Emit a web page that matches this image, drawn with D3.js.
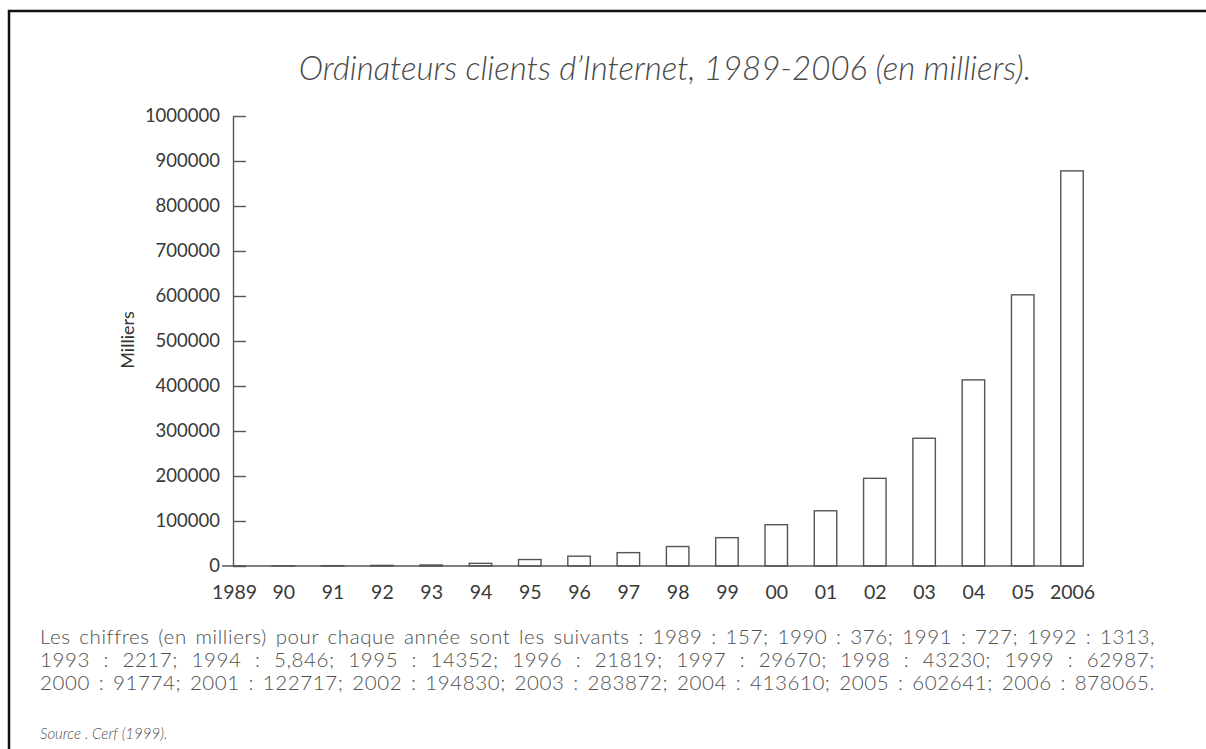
<!DOCTYPE html>
<html>
<head>
<meta charset="utf-8">
<script src="https://cdn.jsdelivr.net/npm/d3@7"></script>
<style>
  body { margin: 0; background: #fff; }
  svg { display: block; font-family: Lato, "Open Sans", sans-serif; }
</style>
</head>
<body>
<script>
// Data
let years = [1989, 1990, 1991, 1992, 1993, 1994, 1995, 1996, 1997, 1998, 1999,
             2000, 2001, 2002, 2003, 2004, 2005, 2006];
let hosts = [157, 376, 727, 1313, 2217, 5846, 14352, 21819, 29670, 43230, 62987,
             91774, 122717, 194830, 283872, 413610, 602641, 878065];
let yearLabels = ["1989", "90", "91", "92", "93", "94", "95", "96", "97", "98", "99",
                  "00", "01", "02", "03", "04", "05", "2006"];
let yTicks = [0, 100000, 200000, 300000, 400000, 500000, 600000, 700000, 800000, 900000, 1000000];
let noteLines = [
  "Les chiffres (en milliers) pour chaque année sont les suivants : 1989 : 157; 1990 : 376; 1991 : 727; 1992 : 1313,",
  "1993 : 2217; 1994 : 5,846; 1995 : 14352; 1996 : 21819; 1997 : 29670; 1998 : 43230; 1999 : 62987;",
  "2000 : 91774; 2001 : 122717; 2002 : 194830; 2003 : 283872; 2004 : 413610; 2005 : 602641; 2006 : 878065."
];

let svgWidth = 1206;
let svgHeight = 749;

let svg = d3.select("body")
  .append("svg")
  .attr("width", svgWidth)
  .attr("height", svgHeight);

svg.append("rect")
  .attr("width", svgWidth)
  .attr("height", svgHeight)
  .attr("fill", "#fff");

// page frame (top and left only)
svg.append("path")
  .attr("d", `M9,${svgHeight} V11 H${svgWidth}`)
  .attr("fill", "none")
  .attr("stroke", "#111")
  .attr("stroke-width", 2.5);

let ink = "#4a4a4a";

// title
svg.append("text")
  .attr("x", 665)
  .attr("y", 80)
  .attr("text-anchor", "middle")
  .style("font-size", "33px")
  .style("font-style", "italic")
  .style("font-weight", 300)
  .style("fill", ink)
  .text("Ordinateurs clients d\u2019Internet, 1989-2006 (en milliers).");

// scales
let xScale = d3.scalePoint()
  .domain(years)
  .range([234, 1072]);

let yScale = d3.scaleLinear()
  .domain([0, 1000000])
  .range([566, 116]);

let barWidth = 22.5;

// y axis, ticks pointing inward
let yAxis = d3.axisLeft(yScale)
  .tickValues(yTicks)
  .tickFormat(d3.format("d"))
  .tickSizeInner(-13)
  .tickSizeOuter(0)
  .tickPadding(13);

let yG = svg.append("g")
  .attr("transform", "translate(233,0)")
  .call(yAxis);

yG.select(".domain").attr("stroke", "#555").attr("stroke-width", 1.4);
yG.selectAll(".tick line").attr("stroke", "#555").attr("stroke-width", 1.4);
yG.selectAll(".tick text")
  .style("font-size", "18.5px")
  .style("font-family", "Lato, 'Open Sans', sans-serif")
  .attr("fill", "#383838");

// y title
svg.append("text")
  .attr("transform", "translate(134,340) rotate(-90)")
  .attr("text-anchor", "middle")
  .style("font-size", "18px")
  .style("fill", "#333")
  .text("Milliers");

// bars
svg.selectAll(".bar")
  .data(years)
  .enter()
  .append("rect")
  .classed("bar", true)
  .attr("x", (d) => xScale(d) - barWidth / 2)
  .attr("y", (d, i) => yScale(hosts[i]))
  .attr("width", barWidth)
  .attr("height", (d, i) => yScale(0) - yScale(hosts[i]))
  .attr("fill", "#fff")
  .attr("stroke", "#555")
  .attr("stroke-width", 1.4);

// baseline from the axis to the right edge of the last bar
svg.append("line")
  .attr("x1", 233)
  .attr("x2", xScale(years[years.length - 1]) + barWidth / 2)
  .attr("y1", yScale(0))
  .attr("y2", yScale(0))
  .attr("stroke", "#555")
  .attr("stroke-width", 1.4);

// x labels
let xAxis = d3.axisBottom(xScale)
  .tickSize(0)
  .tickPadding(19)
  .tickFormat((d, i) => yearLabels[i]);

let xG = svg.append("g")
  .attr("transform", `translate(0,${yScale(0)})`)
  .call(xAxis);

xG.select(".domain").remove();
xG.selectAll(".tick text")
  .style("font-size", "19.5px")
  .style("font-family", "Lato, 'Open Sans', sans-serif")
  .attr("fill", "#383838");

// footnote, justified by widening the word gaps
let noteWidth = 1115;
svg.selectAll(".note")
  .data(noteLines)
  .enter()
  .append("text")
  .classed("note", true)
  .attr("x", 40)
  .attr("y", (d, i) => 644 + i * 23)
  .style("font-size", "20.5px")
  .style("font-weight", 300)
  .style("letter-spacing", "0.6px")
  .style("fill", "#505050")
  .text(d => d)
  .each(function(d) {
    let gaps = d.split(" ").length - 1;
    let extra = noteWidth - this.getComputedTextLength();
    if (extra > 0 && gaps > 0) {
      d3.select(this).style("word-spacing", (extra / gaps) + "px");
    }
  });

svg.append("text")
  .attr("x", 40)
  .attr("y", 739)
  .style("font-size", "15px")
  .style("font-style", "italic")
  .style("font-weight", 300)
  .style("fill", "#505050")
  .text("Source . Cerf (1999).");
</script>
</body>
</html>
